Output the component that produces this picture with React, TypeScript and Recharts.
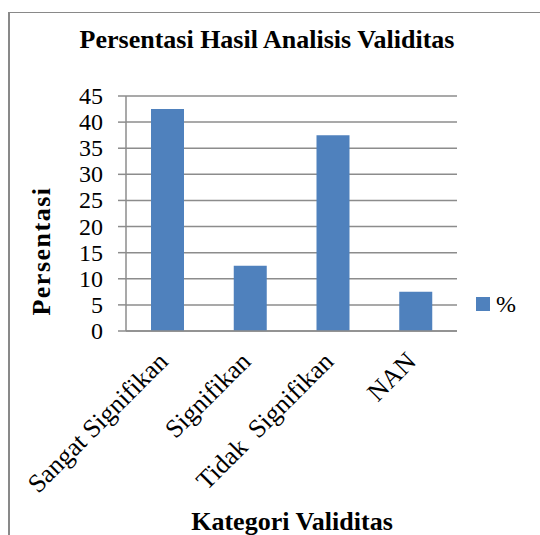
import React from 'react';
import { BarChart, Bar, XAxis, YAxis, CartesianGrid, Legend, Label } from 'recharts';

const categories = ['Sangat Signifikan', 'Signifikan', 'Tidak  Signifikan', 'NAN'];
const values = [42.5, 12.5, 37.5, 7.5];
const yTicks = [0, 5, 10, 15, 20, 25, 30, 35, 40, 45];
const seriesName = '%';
const chartTitle = 'Persentasi Hasil Analisis Validitas';
const xTitle = 'Kategori Validitas';
const yTitle = 'Persentasi';

const data = categories.map((c, i) => ({ name: c, value: values[i] }));

const FONT = '"Liberation Serif", "Times New Roman", serif';
const BLUE = '#4f81bd';
const GRID = '#8c8c8c';

const XTick = (props: any) => {
  const { x, y, payload } = props;
  return (
    <g transform={`translate(${x + 2},${y + 32}) rotate(-45)`}>
      <text x={0} y={0} textAnchor="end" fontFamily={FONT} fontSize={26} fill="#000" style={{ whiteSpace: 'pre' }}>
        {payload.value}
      </text>
    </g>
  );
};

const YTick = (props: any) => {
  const { x, y, payload } = props;
  return (
    <text x={x} y={y} dy={8} textAnchor="end" fontFamily={FONT} fontSize={24} fill="#000">
      {payload.value}
    </text>
  );
};

const LegendContent = () => (
  <div style={{ display: 'flex', alignItems: 'center', fontFamily: FONT, fontSize: 24, color: '#000', lineHeight: '26px' }}>
    <span style={{ display: 'inline-block', width: 14, height: 14, background: BLUE, marginRight: 6 }} />
    <span>{seriesName}</span>
  </div>
);

export default function App() {
  return (
    <div style={{ position: 'absolute', left: 0, top: 0, width: 540, height: 535, background: '#fff', overflow: 'hidden', fontFamily: FONT }}>
      <div
        style={{
          position: 'absolute',
          left: 8,
          top: 12,
          width: 600,
          height: 600,
          borderLeft: '2px solid #898989',
          borderTop: '1px solid #898989',
        }}
      />
      <div style={{ position: 'absolute', left: 0, top: 0 }}>
        <BarChart width={540} height={535} data={data} margin={{ top: 96, right: 83, left: 0, bottom: 0 }}>
          <text x={267} y={48} textAnchor="middle" fontFamily={FONT} fontWeight="bold" fontSize={26} fill="#000">
            {chartTitle}
          </text>
          <CartesianGrid vertical={false} stroke={GRID} strokeWidth={1.5} />
          <XAxis
            dataKey="name"
            height={204}
            interval={0}
            tickLine={false}
            tickSize={0}
            tickMargin={0}
            axisLine={{ stroke: GRID, strokeWidth: 1.5 }}
            tick={<XTick />}
          >
            <Label
              content={() => (
                <text x={292} y={530} textAnchor="middle" fontFamily={FONT} fontWeight="bold" fontSize={26} fill="#000">
                  {xTitle}
                </text>
              )}
            />
          </XAxis>
          <YAxis
            width={126}
            domain={[0, 45]}
            ticks={yTicks}
            interval={0}
            tickSize={8}
            tickMargin={15}
            tickLine={{ stroke: GRID, strokeWidth: 1.5 }}
            axisLine={{ stroke: GRID, strokeWidth: 1.5 }}
            tick={<YTick />}
          >
            <Label
              content={() => (
                <text
                  x={50}
                  y={251}
                  transform="rotate(-90, 50, 251)"
                  textAnchor="middle"
                  fontFamily={FONT}
                  fontWeight="bold"
                  fontSize={26}
                  letterSpacing={1.5}
                  fill="#000"
                >
                  {yTitle}
                </text>
              )}
            />
          </YAxis>
          <Legend
            layout="horizontal"
            align="center"
            verticalAlign="middle"
            content={<LegendContent />}
            wrapperStyle={{ position: 'absolute', left: 476, top: 291, width: 'auto', height: 'auto' }}
          />
          <Bar dataKey="value" name={seriesName} fill={BLUE} barSize={33} isAnimationActive={false} />
        </BarChart>
      </div>
    </div>
  );
}
